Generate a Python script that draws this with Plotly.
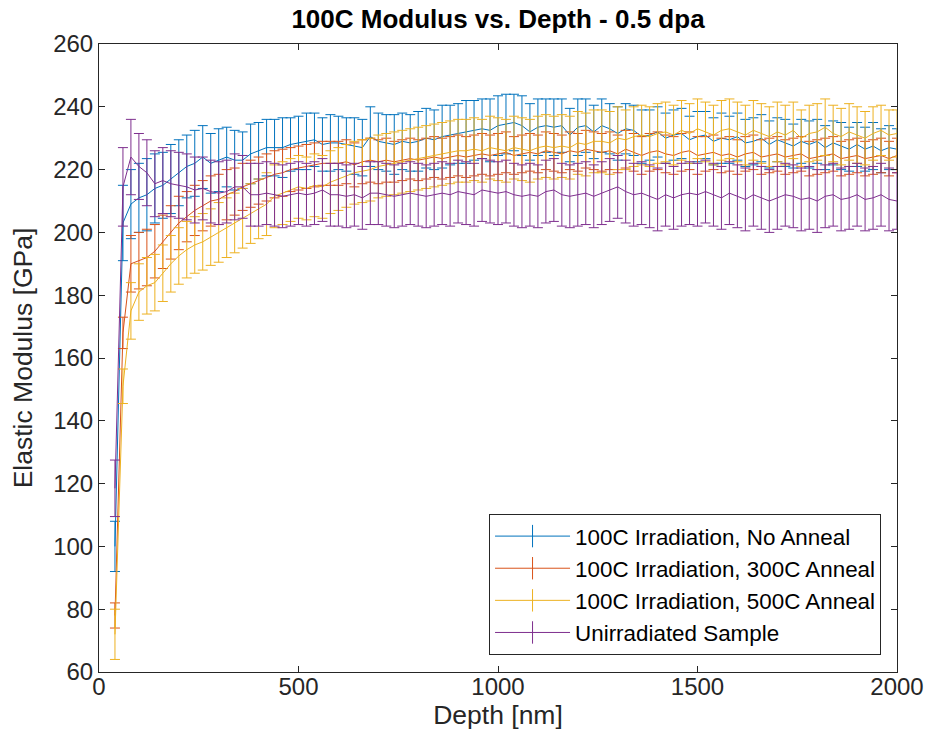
import plotly.graph_objects as go

depth_nm = [
    40, 60, 80, 100, 120, 140, 160, 180, 200, 220,
    240, 260, 280, 300, 320, 340, 360, 380, 400, 420,
    440, 460, 480, 500, 520, 540, 560, 580, 600, 620,
    640, 660, 680, 700, 720, 740, 760, 780, 800, 820,
    840, 860, 880, 900, 920, 940, 960, 980, 1000, 1020,
    1040, 1060, 1080, 1100, 1120, 1140, 1160, 1180, 1200, 1220,
    1240, 1260, 1280, 1300, 1320, 1340, 1360, 1380, 1400, 1420,
    1440, 1460, 1480, 1500, 1520, 1540, 1560, 1580, 1600, 1620,
    1640, 1660, 1680, 1700, 1720, 1740, 1760, 1780, 1800, 1820,
    1840, 1860, 1880, 1900, 1920, 1940, 1960, 1980, 2000,
]

series_names = [
    "100C Irradiation, No Anneal",
    "100C Irradiation, 300C Anneal",
    "100C Irradiation, 500C Anneal",
    "Unirradiated Sample",
]

no_anneal_mean = [
    100, 203, 209, 211, 212, 214, 215, 217, 219, 221,
    222, 224, 222, 223, 224, 223, 223, 225, 226, 227,
    227, 227, 228, 228.5, 229, 229.5, 228, 228.5, 228.5, 228,
    227.5, 227, 230.5, 229, 228.5, 228, 229, 228.5, 229, 230,
    229.5, 230.5, 231, 231.5, 232, 232.5, 233, 232.5, 234, 234.5,
    235, 234, 232, 233.5, 234, 233.5, 234, 231, 233.5, 234,
    232, 234, 233, 231.5, 233, 232.5, 230.5, 231, 232, 230,
    231, 231.5, 229.5, 230.5, 231, 229, 230, 229.5, 230.5, 228.5,
    229, 230, 228, 229.5, 228.5, 227.5, 229, 228, 229, 227,
    228.5, 227.5, 226.5, 228, 226.5, 227.5, 226, 227, 226.5,
]
no_anneal_err = [
    8, 12, 11, 11, 11.5, 11, 10.5, 11, 10.5, 10,
    10.5, 10, 9.5, 10, 9.5, 9.5, 9, 9.5, 9, 9,
    9, 9.5, 8.5, 8.5, 9, 8.5, 8.5, 9, 8.5, 8.5,
    9, 9, 9.5, 9, 9, 9.5, 9, 9, 9.5, 9.5,
    9.5, 10, 9.5, 9.5, 10, 9.5, 9.5, 10, 9.5, 9.5,
    9, 9.5, 9, 9, 8.5, 9, 8.5, 8.5, 9, 8.5,
    8.5, 8.5, 8, 8.5, 8, 8, 8.5, 8, 8, 8,
    8, 8, 7.5, 8, 7.5, 7.5, 8, 7.5, 7.5, 7.5,
    7.5, 7.5, 7.5, 7, 7.5, 7, 7, 7.5, 7, 7,
    7, 7.5, 7, 7, 7, 7.5, 7, 7, 6.5,
]

anneal300_mean = [
    78, 168, 190, 191, 192, 194, 197, 200, 203, 205,
    207, 208.5, 210, 210.5, 212, 213, 214.5, 215.5, 216.5, 217.5,
    218.5, 219, 220, 220.5, 221, 221.5, 222, 222, 222, 222.5,
    221.5, 222.5, 223, 222.5, 223, 222.5, 223, 223.5, 223, 223.5,
    224, 223.5, 224, 224.5, 224, 224.5, 225, 224.5, 225, 225.5,
    224.5, 225, 225.5, 225, 226, 225.5, 225, 226, 225.5, 226.5,
    226, 225.5, 226, 225, 226.5, 225.5, 224.5, 225.5, 226, 225,
    224.5, 225.5, 226, 224.5, 225, 225.5, 224.5, 225, 224, 225,
    225.5, 224, 224.5, 225, 224, 224.5, 225, 223.5, 224, 224.5,
    225, 223.5, 224, 224.5, 223.5, 224, 224.5, 223.5, 224.5,
]
anneal300_err = [
    4, 5, 9, 9, 9, 8.5, 8.5, 8.5, 8.5, 8,
    8, 8, 8, 8, 8, 7.5, 7.5, 7.5, 7.5, 7.5,
    7.5, 7.5, 7, 7, 7, 7, 7, 7, 7, 7,
    7, 7, 7, 7, 7, 6.5, 6.5, 6.5, 6.5, 6.5,
    6.5, 6.5, 6.5, 6.5, 6.5, 6.5, 6.5, 6.5, 6.5, 6.5,
    6, 6, 6, 6, 6, 6, 6, 6, 6, 6,
    6, 6, 6, 6, 6, 6, 6, 6, 6, 6,
    6, 6, 6, 6, 5.5, 5.5, 5.5, 5.5, 5.5, 5.5,
    5.5, 5.5, 5.5, 5.5, 5.5, 5.5, 5.5, 5.5, 5.5, 5.5,
    5.5, 5.5, 5.5, 5.5, 5.5, 5.5, 5.5, 5.5, 5.5,
]

anneal500_mean = [
    72, 151, 175, 181, 183, 184, 187, 190, 192.5, 194.5,
    196, 197, 198.5, 200, 201.5, 203, 204.5, 206, 207.5, 209,
    211.5, 212.5, 213.5, 214.5, 214, 215, 214.5, 216, 217, 218,
    219, 219.5, 220, 221, 221.5, 222, 222.5, 223, 223.5, 224,
    224.5, 225, 225.5, 226, 226, 226.5, 226, 227, 226.5, 226,
    227, 226.5, 226, 227, 227.5, 227, 227.5, 227, 228.5, 228,
    229, 229, 228.5, 230, 229.5, 230.5, 231, 230.5, 231.5, 232,
    231, 232.5, 231.5, 233, 232, 231, 232.5, 233, 232, 231,
    232.5, 231.5, 230.5, 232, 231, 232.5, 230, 231.5, 232, 233.5,
    231.5, 230.5, 232, 231, 230, 231.5, 232.5, 231, 231.5,
]
anneal500_err = [
    8, 5.5, 9, 9, 9, 9, 9, 9, 9, 9,
    9, 9, 9, 9.5, 9.5, 9.5, 9.5, 9.5, 9.5, 10,
    10, 10, 10, 10, 10, 10, 10, 10, 10, 10,
    10, 10, 10, 10, 10, 10, 10, 10, 10, 10,
    10, 10, 10, 10, 10, 10, 10, 10, 10, 10,
    10, 10, 10, 10, 10, 10, 10, 10, 10, 10,
    10, 10, 10, 10, 9.5, 9.5, 9.5, 9.5, 9.5, 9.5,
    9.5, 9.5, 9.5, 9.5, 9.5, 9.5, 9.5, 9.5, 9.5, 9.5,
    9.5, 9.5, 9.5, 9.5, 9.5, 9, 9, 9, 9, 9,
    9, 9, 9, 9, 8.5, 8.5, 8, 8, 7.5,
]

unirr_mean = [
    118.5, 214.5, 224, 221, 219, 215.5, 216.5, 215.5, 215, 214.5,
    213.5, 214, 213, 212.5, 213, 214.5, 214.5, 212, 212, 212.5,
    212, 211.5, 212, 212.5, 212, 212.5, 213.5, 212, 212, 211.5,
    212, 211, 212.5, 212.5, 212, 211.5, 212, 212.5, 212, 211.5,
    212, 212.5, 212, 213, 212.5, 212, 213.5, 213, 212.5, 213,
    212, 211.5, 212, 211.5, 213, 213.5, 212, 211.5, 212, 212.5,
    211.5, 212.5, 213.5, 214.5, 213, 212, 212.5, 211.5, 210.5, 212,
    211, 212, 212.5, 212, 213, 212, 211, 212.5, 211.5, 210.5,
    212, 211, 210, 211, 212, 211.5, 210.5, 211, 210, 211.5,
    212, 210.5, 211, 212, 210.5, 211, 212, 210.5, 210,
]
unirr_err = [
    9, 12.5, 12, 10.5, 10.5, 10.5, 10.5, 10.5, 10.5, 10.5,
    10.5, 10, 10, 10, 10, 10.5, 10, 10, 10, 10,
    10, 10, 10, 10, 10, 10, 10, 10, 10, 10,
    10, 10, 10, 10, 10, 10, 10, 10, 10, 10,
    10, 10, 10, 10, 10, 10, 10, 10, 10, 10,
    10, 10, 10, 10, 10, 10, 10, 10, 10, 10,
    10, 10, 10, 10, 10, 10, 10, 10, 10, 10,
    10, 10, 10, 10, 10, 10, 10, 10, 10, 10,
    10, 10, 10, 10, 10, 10, 10, 10, 10, 10,
    10, 10, 10, 10, 10, 10, 10, 10, 9,
]

x_ticks = [0, 500, 1000, 1500, 2000]
y_ticks = [60, 80, 100, 120, 140, 160, 180, 200, 220, 240, 260]

colors = ["#0072BD", "#D95319", "#EDB120", "#7E2F8E"]
means = [no_anneal_mean, anneal300_mean, anneal500_mean, unirr_mean]
errs = [no_anneal_err, anneal300_err, anneal500_err, unirr_err]

for arr in means + errs:
    assert len(arr) == len(depth_nm), len(arr)

FONT = "Liberation Sans, Arial, Helvetica, sans-serif"
AX = "#262626"
W, H = 929, 751

fig = go.Figure()
for name, m, e, c in zip(series_names, means, errs, colors):
    fig.add_trace(go.Scatter(
        x=depth_nm, y=m, mode="lines", name=name, legendgroup=name,
        showlegend=False,
        line=dict(color=c, width=1),
        error_y=dict(type="data", array=e, visible=True, color=c,
                     thickness=1, width=5),
    ))
# legend entries (line with vertical error-bar glyph)
for name, c in zip(series_names, colors):
    fig.add_trace(go.Scatter(
        x=[None], y=[None], mode="lines+markers", name=name,
        legendgroup=name, showlegend=True,
        line=dict(color=c, width=1),
        marker=dict(symbol="line-ns", size=18, color=c,
                    line=dict(color=c, width=1)),
    ))

fig.update_layout(
    width=W, height=H,
    margin=dict(l=99, r=32, t=44, b=79),
    paper_bgcolor="white", plot_bgcolor="white",
    font=dict(family=FONT, size=24, color=AX),
    title=dict(text="<b>100C Modulus vs. Depth - 0.5 dpa</b>",
               x=0.5, xref="paper", xanchor="center",
               y=1 - 19 / H, yref="container", yanchor="middle",
               font=dict(family=FONT, size=26, color="black")),
    showlegend=True,
    legend=dict(x=0.98, y=0.027, xanchor="right", yanchor="bottom",
                bgcolor="white", bordercolor=AX, borderwidth=1,
                font=dict(family=FONT, size=22.4, color="black"),
                tracegroupgap=0, itemwidth=75),
)
fig.update_xaxes(
    range=[0, 2000], tickvals=x_ticks, ticks="inside", ticklen=6,
    tickcolor=AX, showline=True, linecolor=AX, linewidth=1, mirror="ticks",
    showgrid=False, zeroline=False, automargin=False, ticklabelstandoff=-7,
    title=dict(text="Depth [nm]", font=dict(size=26.5, color=AX), standoff=0),
)
fig.update_yaxes(
    range=[60, 260], tickvals=y_ticks, ticks="inside", ticklen=6,
    tickcolor=AX, showline=True, linecolor=AX, linewidth=1, mirror="ticks",
    showgrid=False, zeroline=False, automargin=False,
    title=dict(text="Elastic Modulus [GPa]", font=dict(size=26.5, color=AX),
               standoff=12),
)

# remove the browser's default 8 px body margin so the figure fills the window
fig.write_html(
    "out.html",
    config={"displayModeBar": False},
    post_script="document.body.style.margin='0';document.body.style.overflow='hidden';",
)
